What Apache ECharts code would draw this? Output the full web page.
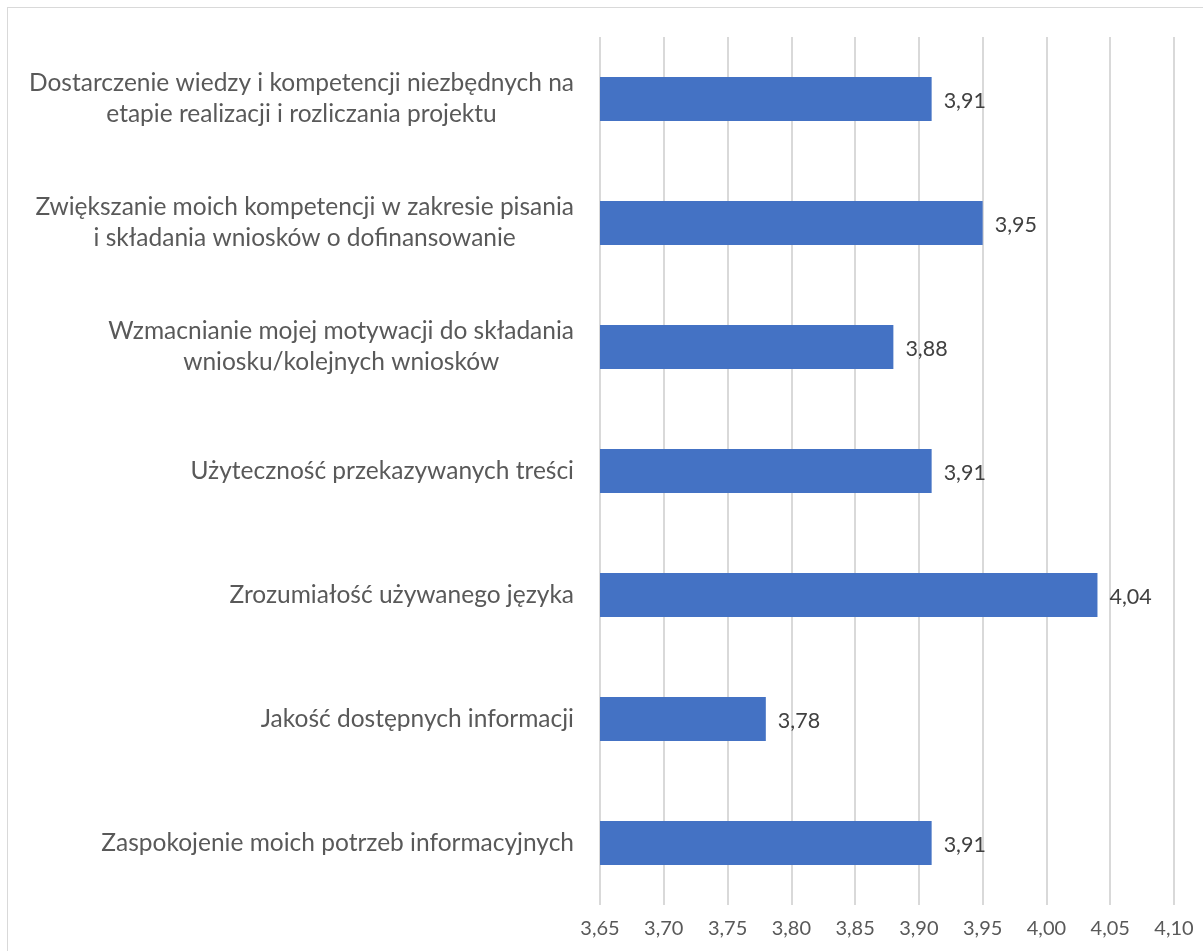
<!DOCTYPE html>
<html>
<head>
<meta charset="utf-8">
<script src="https://cdn.jsdelivr.net/npm/echarts@6/dist/echarts.min.js"></script>
<style>
  html, body { margin: 0; padding: 0; background: #fff; }
  #frame { position: absolute; left: 7px; top: 7px; width: 1200px; height: 950px; border: 1px solid #d9d9d9; box-sizing: border-box; }
  #chart { position: absolute; left: 0; top: 0; width: 1203px; height: 951px; }
</style>
</head>
<body>
<div id="frame"></div>
<div id="chart"></div>
<script>
// top to bottom, as in the picture
const categories = [
  'Dostarczenie wiedzy i kompetencji niezbędnych na\netapie realizacji i rozliczania projektu',
  'Zwiększanie moich kompetencji w zakresie pisania\ni składania wniosków o dofinansowanie',
  'Wzmacnianie mojej motywacji do składania\nwniosku/kolejnych wniosków',
  'Użyteczność przekazywanych treści',
  'Zrozumiałość używanego języka',
  'Jakość dostępnych informacji',
  'Zaspokojenie moich potrzeb informacyjnych'
]
const values = [3.91, 3.95, 3.88, 3.91, 4.04, 3.78, 3.91]
const axisMin = 3.65
const axisMax = 4.10
const axisStep = 0.05

const fmt = (v) => v.toFixed(2).replace('.', ',')

const chart = echarts.init(document.getElementById('chart'))
chart.setOption({
  animation: false,
  textStyle: { fontFamily: 'Lato' },
  grid: { left: 600, right: 29, top: 37, bottom: 46 },
  xAxis: {
    type: 'value',
    min: axisMin,
    max: axisMax,
    interval: axisStep,
    axisLine: { show: false },
    axisTick: { show: false },
    axisLabel: {
      margin: 14,
      color: '#595959',
      fontSize: 20,
      formatter: (v) => fmt(v)
    },
    splitLine: { lineStyle: { color: '#d9d9d9', width: 2 } }
  },
  yAxis: {
    type: 'category',
    inverse: true,
    data: categories,
    axisLine: { show: false },
    axisTick: { show: false },
    axisLabel: {
      margin: 26,
      align: 'right',
      formatter: (v) => v.split('\n').map(s => '{a|' + s + '}').join('\n'),
      rich: {
        a: { align: 'center', color: '#595959', fontSize: 24.5, lineHeight: 31, fontFamily: 'Lato' }
      }
    }
  },
  series: [{
    type: 'bar',
    data: values,
    barWidth: 44,
    itemStyle: { color: '#4472C4' },
    label: {
      show: true,
      position: 'right',
      distance: 12,
      offset: [0, 2],
      color: '#404040',
      fontSize: 21.5,
      formatter: (p) => fmt(p.value)
    }
  }]
})
</script>
</body>
</html>
